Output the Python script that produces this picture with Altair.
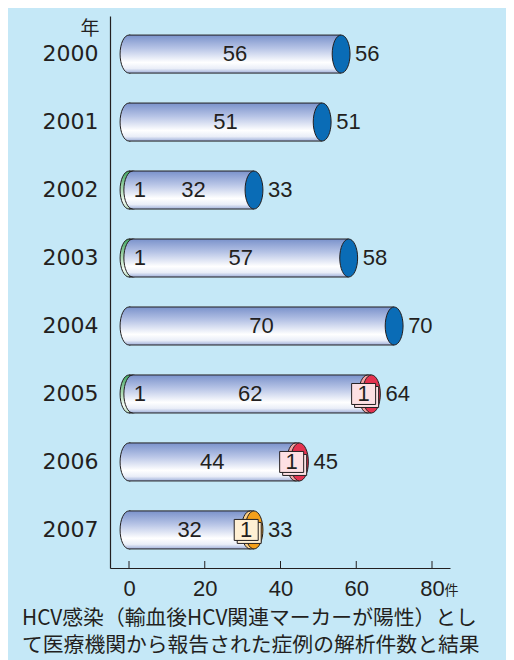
import altair as alt
import pandas as pd

years = ["2000", "2001", "2002", "2003", "2004", "2005", "2006", "2007"]
green = [0, 0, 1, 1, 0, 1, 0, 0]
main = [56, 51, 32, 57, 70, 62, 44, 32]
red = [0, 0, 0, 0, 0, 1, 1, 0]
orange = [0, 0, 0, 0, 0, 0, 0, 1]
total = [56, 51, 33, 58, 70, 64, 45, 33]
x_ticks = [0, 20, 40, 60, 80]
title_lines = ["HCV感染（輸血後HCV関連マーカーが陽性）とし", "て医療機関から報告された症例の解析件数と結果"]

CAP = {"none": "#0a6cb6", "red": "#e4324f", "orange": "#f4a01a"}
SEG = {"red": "#f4a3a4", "orange": "#fbd089"}
BOX = {"red": "#fde0e3", "orange": "#fff0d4"}

rows = []
for i, y in enumerate(years):
    start = green[i]
    mend = green[i] + main[i]
    st = "red" if red[i] else ("orange" if orange[i] else "none")
    rows.append(dict(year=y, zero=0, green=green[i], main=main[i], start=start, mend=mend,
                     mid=(start + mend) / 2, total=total[i], seg=red[i] + orange[i], segtype=st,
                     capcolor=CAP[st], segcolor=SEG.get(st, "#ffffff"), boxcolor=BOX.get(st, "#ffffff")))
df = pd.DataFrame(rows)
ticks_df = pd.DataFrame({"t": x_ticks})

W, H = 340, 552
BARH = 38
ELL = "M 0 -1 A 0.47 1 0 0 1 0 1 A 0.47 1 0 0 1 0 -1 Z"
BOXP = "M -1 -0.875 L 1 -0.875 L 1 0.875 L -1 0.875 Z"
INK = "#231f20"
YEARFONT = "DejaVu Sans"
NUMFONT = "Liberation Sans"

body_grad = alt.Gradient(gradient="linear", x1=0, x2=0, y1=0, y2=1, stops=[
    alt.GradientStop(color="#7a92cb", offset=0),
    alt.GradientStop(color="#b7c4e6", offset=0.35),
    alt.GradientStop(color="#ffffff", offset=0.72),
    alt.GradientStop(color="#eaeef8", offset=0.88),
    alt.GradientStop(color="#9fb0da", offset=1)])
green_grad = alt.Gradient(gradient="linear", x1=0, x2=0, y1=0, y2=1, stops=[
    alt.GradientStop(color="#3fa562", offset=0),
    alt.GradientStop(color="#a6d8ae", offset=0.45),
    alt.GradientStop(color="#f4fbf4", offset=0.8),
    alt.GradientStop(color="#b3dcbb", offset=1)])

xs = alt.Scale(domain=[-5.02, 84.75], nice=False, zero=False)
ys = alt.Scale(paddingInner=0, paddingOuter=0.06)

X = lambda f: alt.X(f, scale=xs, axis=alt.Axis(values=x_ticks, tickSize=0, labelPadding=10, labelFontSize=22,
                                                labelFont=NUMFONT, labelColor=INK, domainColor=INK, domainWidth=1.2,
                                                title="件", titleFont="Noto Sans CJK JP", titleFontSize=14,
                                                titleFontWeight="normal", titleColor=INK, titleX=341, titleY=22,
                                                titleAlign="center", titleBaseline="middle", grid=False))
Y = alt.Y("year:N", scale=ys, sort=years,
          axis=alt.Axis(ticks=False, labelPadding=12, labelFontSize=22, labelFont=YEARFONT, labelColor=INK,
                        domainColor=INK, domainWidth=1.2, title="年", titleAngle=0, titleFont="Noto Sans CJK JP",
                        titleFontSize=19, titleFontWeight="normal", titleColor=INK, titleX=-11, titleY=12,
                        titleAlign="right", titleBaseline="middle"))

base = alt.Chart(df).encode(y=Y)

green_cap = base.transform_filter("datum.green > 0").mark_point(
    shape=ELL, size=BARH * BARH, filled=True, fill=green_grad, stroke=INK, strokeWidth=1, opacity=1
).encode(x=X("zero:Q"))
body_cap = base.mark_point(
    shape=ELL, size=BARH * BARH, filled=True, fill=body_grad, stroke=INK, strokeWidth=1, opacity=1
).encode(x=X("start:Q"))
body = base.mark_bar(height=BARH, fill=body_grad, strokeWidth=0).encode(x=X("start:Q"), x2="mend:Q")
seg_cap = base.transform_filter("datum.seg > 0").mark_point(
    shape=ELL, size=BARH * BARH, filled=True, stroke=INK, strokeWidth=1, opacity=1
).encode(x=X("mend:Q"), fill=alt.Fill("segcolor:N", scale=None))
seg_bar = base.transform_filter("datum.seg > 0").mark_bar(height=BARH, strokeWidth=0).encode(
    x=X("mend:Q"), x2="total:Q", fill=alt.Fill("segcolor:N", scale=None))
top_rule = base.mark_rule(color=INK, strokeWidth=1, yOffset=-BARH / 2).encode(x=X("zero:Q"), x2="total:Q")
bot_rule = base.mark_rule(color=INK, strokeWidth=1, yOffset=BARH / 2).encode(x=X("zero:Q"), x2="total:Q")
end_cap = base.mark_point(
    shape=ELL, size=BARH * BARH, filled=True, stroke=INK, strokeWidth=1, opacity=1
).encode(x=X("total:Q"), fill=alt.Fill("capcolor:N", scale=None))

txt = dict(font=NUMFONT, fontSize=22, color=INK, baseline="middle")
main_lbl = base.mark_text(align="center", **txt).encode(x=X("mid:Q"), text="main:Q")
green_lbl = base.transform_filter("datum.green > 0").mark_text(align="left", dx=1, **txt).encode(
    x=X("start:Q"), text="green:Q")
total_lbl = base.mark_text(align="left", dx=14, **txt).encode(x=X("total:Q"), text="total:Q")

box_sh = base.transform_filter("datum.seg > 0").mark_point(
    shape=BOXP, size=576, filled=True, stroke=INK, strokeWidth=1, opacity=1, xOffset=-1, yOffset=3
).encode(x=X("mend:Q"), fill=alt.Fill("boxcolor:N", scale=None))
box = base.transform_filter("datum.seg > 0").mark_point(
    shape=BOXP, size=576, filled=True, stroke=INK, strokeWidth=1, opacity=1, xOffset=-4
).encode(x=X("mend:Q"), fill=alt.Fill("boxcolor:N", scale=None))
box_lbl = base.transform_filter("datum.seg > 0").mark_text(align="center", dx=-4, **txt).encode(
    x=X("mend:Q"), text="seg:Q")

tick_marks = alt.Chart(ticks_df).mark_rule(color=INK, strokeWidth=1).encode(
    x=X("t:Q"), y=alt.value(H), y2=alt.value(H - 7))

chart = alt.layer(
    green_cap, body_cap, body, seg_cap, seg_bar, top_rule, bot_rule, end_cap,
    main_lbl, green_lbl, total_lbl, box_sh, box, box_lbl, tick_marks
).properties(
    width=W, height=H,
    autosize=alt.AutoSizeParams(type="none"),
    padding={"left": 102, "top": 8, "right": 56, "bottom": 92},
    background="#c5e8f7",
    title=alt.TitleParams(text=title_lines, orient="bottom", anchor="start", frame="group", dx=-88, offset=10,
                          font="Noto Sans CJK JP", fontSize=20.8, fontWeight="normal", lineHeight=27, color=INK),
).configure_view(stroke=None)

chart.save("out.html", embed_options={"renderer": "svg", "actions": False})
